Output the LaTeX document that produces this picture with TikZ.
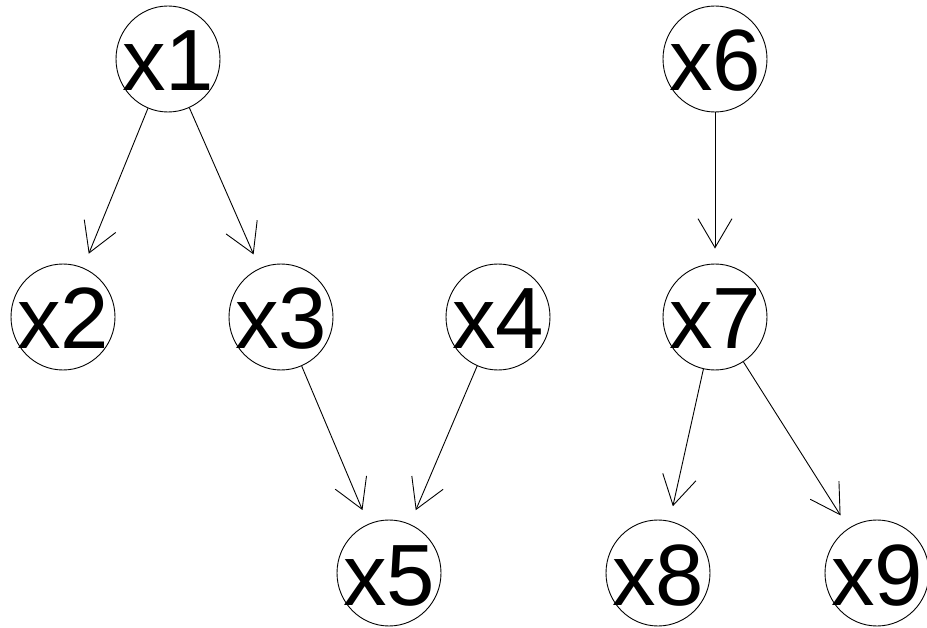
\documentclass[tikz,border=0pt]{standalone}
\usepackage{fontspec}
\setmainfont{Liberation Sans}
\usetikzlibrary{shapes.geometric,arrows.meta}
\newcommand{\vlab}[1]{\makebox[0pt]{#1}}
\tikzset{
  vert/.style={ellipse, draw, line width=0.9pt, minimum width=104pt, minimum height=106pt,
    inner sep=0pt, font=\fontsize{87}{87}\selectfont, text height=64pt, text depth=0pt},
  edge/.style={line width=0.9pt, -{Straight Barb[length=29pt,width=34pt]}, shorten >=15pt}
}
\begin{document}
\begin{tikzpicture}[x=1pt,y=-1pt]
\useasboundingbox (0,0) rectangle (927,628);
\node[vert] (x1) at (168,59) {\vlab{x1}};
\node[vert] (x2) at (63,317) {\vlab{x2}};
\node[vert] (x3) at (281,317) {\vlab{x3}};
\node[vert] (x4) at (498,317) {\vlab{x4}};
\node[vert] (x5) at (389,573) {\vlab{x5}};
\node[vert] (x6) at (715,59) {\vlab{x6}};
\node[vert] (x7) at (715,317) {\vlab{x7}};
\node[vert] (x8) at (658,573) {\vlab{x8}};
\node[vert] (x9) at (877,573) {\vlab{x9}};
\draw[edge] (x1) -- (x2);
\draw[edge] (x1) -- (x3);
\draw[edge] (x3) -- (x5);
\draw[edge] (x4) -- (x5);
\draw[edge] (x6) -- (x7);
\draw[edge] (x7) -- (x8);
\draw[edge] (x7) -- (x9);
\end{tikzpicture}
\end{document}
